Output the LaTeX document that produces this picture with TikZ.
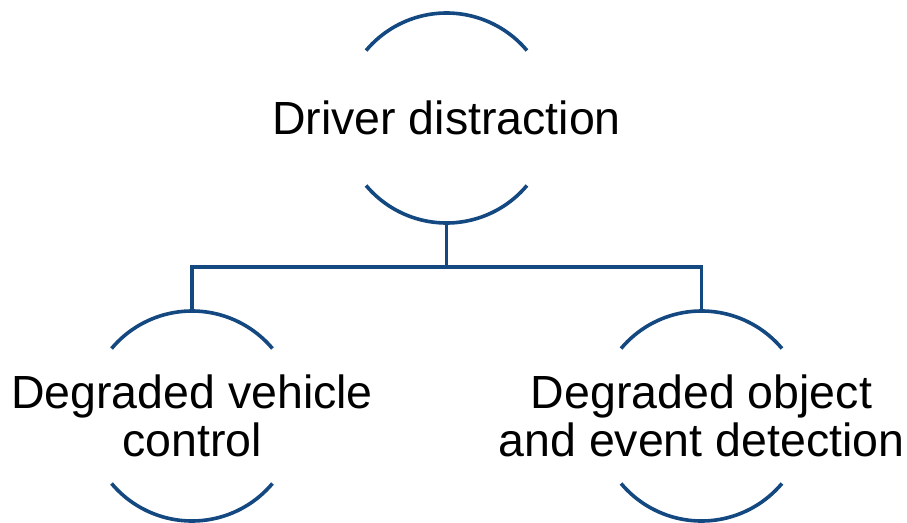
\documentclass[tikz,border=0pt]{standalone}
\usepackage{fontspec}
\setmainfont{Liberation Sans}
\definecolor{linkblue}{RGB}{20,72,128}
\tikzset{
  ring/.style={circle, minimum size=210pt, inner sep=0pt, outer sep=0pt},
  txt/.style={align=center, inner sep=0pt, text=black,
    font=\fontsize{46.5}{47.5}\selectfont},
  link/.style={draw=linkblue, line width=3.6pt},
}
\begin{document}
\begin{tikzpicture}[x=1pt, y=-1pt]
  \useasboundingbox (0,0) rectangle (907,522);

  % circles (only their top and bottom arcs are drawn)
  \node[ring] (top) at (446.5,118) {};
  \node[ring] (left) at (192,416) {};
  \node[ring] (right) at (701.5,416) {};

  \node[txt] (toptext) at (top.center) {Driver distraction};
  \node[txt] (lefttext) at (left.center) {Degraded vehicle\\control};
  \node[txt] (righttext) at (right.center) {Degraded object\\and event detection};

  \foreach \n in {top,left,right}{
    \draw[link] (\n.40) arc[start angle=40, end angle=140, radius=105pt];
    \draw[link] (\n.220) arc[start angle=220, end angle=320, radius=105pt];
  }

  % tree connectors
  \coordinate (bus) at (top.south |- 0,267);
  \draw[link] (top.south) -- (bus);
  \draw[link] (left.north) |- (bus) -| (right.north);
\end{tikzpicture}
\end{document}
